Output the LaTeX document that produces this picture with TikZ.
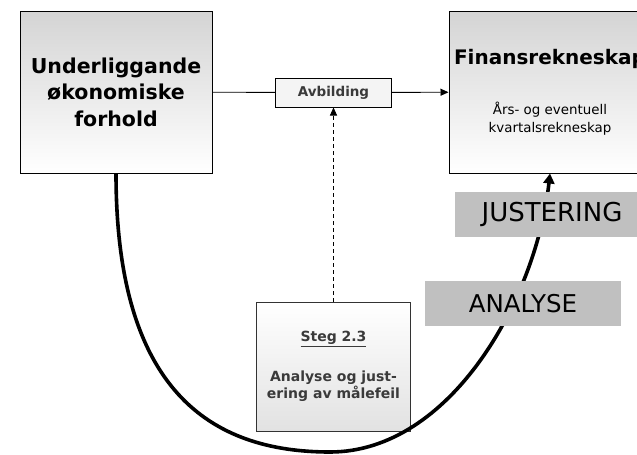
\documentclass[tikz,border=0pt]{standalone}
\usepackage{fontspec}
\setmainfont{DejaVu Sans}
\usetikzlibrary{arrows.meta}
\definecolor{boxgray}{HTML}{C0C0C0}
\definecolor{txtgray}{HTML}{3A3A3A}
\definecolor{topgray}{HTML}{D4D4D4}
\definecolor{botgray}{HTML}{E2E2E2}
\definecolor{avfill}{HTML}{F4F4F4}
\tikzset{
  bigbox/.style={draw=black, line width=1pt, top color=topgray, bottom color=white,
    minimum width=192pt, minimum height=162pt, inner sep=0pt, align=center},
  avbox/.style={draw=black, line width=1pt, fill=avfill, minimum width=116pt,
    minimum height=29pt, inner sep=0pt, text=txtgray,
    font=\bfseries\fontsize{13.5}{16}\selectfont},
  stegbox/.style={draw=black!80, line width=0.8pt, top color=white, bottom color=botgray,
    minimum width=154pt, minimum height=129pt, inner sep=0pt, align=center, text=txtgray,
    font=\bfseries\fontsize{14}{17.5}\selectfont},
  graybox/.style={fill=boxgray, minimum height=45pt, inner sep=0pt},
  conn/.style={line width=0.9pt},
  smalltip/.style={-{Triangle[length=8pt,width=7pt]}},
  loopline/.style={line width=3.6pt, -{Triangle[length=10pt,width=11pt]}},
}
\begin{document}
\begin{tikzpicture}[x=1pt,y=-1pt]
\useasboundingbox (0,0) rectangle (637,455);
\clip (0,0) rectangle (637,455);

\node[bigbox, font=\bfseries\fontsize{20.5}{26.5}\selectfont] (L) at (116,92)
  {Underliggande\\økonomiske\\forhold};
\node[bigbox, minimum width=202pt, font=\fontsize{13.4}{18}\selectfont] (R) at (550,92)
  {{\bfseries\fontsize{20}{24}\selectfont Finansrekneskap}\\[32pt]
   Års- og eventuell\\
   kvartalsrekneskap};
\node[avbox] (A) at (333.5,92.5) {Avbilding};
\node[stegbox] (S) at (333.5,366.5)
  {\underline{Steg 2.3}\\[22pt]
   Analyse og just-\\
   ering av målefeil};

\draw[conn] (L) -- (A);
\draw[conn, smalltip] (A) -- (R);
\draw[conn, dashed, dash pattern=on 4pt off 3pt, smalltip] (S) -- (A);

\draw[loopline] (L.south) .. controls (116,390) and (210,452) .. (330,452)
  .. controls (450,452) and (536,300) .. (R.south);

\node[graybox, minimum width=194pt] (J) at (552,214.5)
  {\fontsize{26}{30}\selectfont JUSTERING};
\node[graybox, minimum width=196pt] (AN) at (523,303.5)
  {\fontsize{24.5}{30}\selectfont ANALYSE};
\end{tikzpicture}
\end{document}
